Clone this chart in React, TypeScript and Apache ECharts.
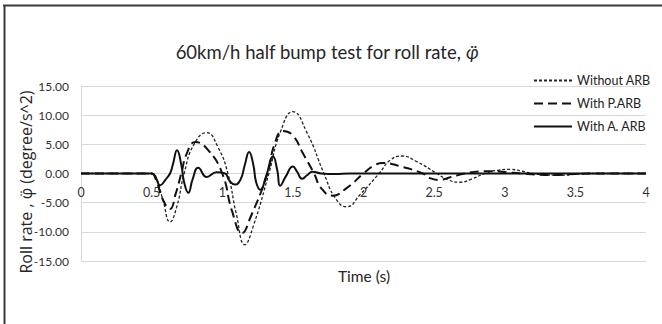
import React, { useEffect, useRef } from "react";
import * as echarts from "echarts";

const seriesNames = ["Without ARB", "With P.ARB", "With A. ARB"];

const withoutARB: [number, number][] = [
  [0, 0], [0.5, 0], [0.53, -0.5], [0.58, -4.5], [0.63, -8.3], [0.68, -5.5], [0.73, 0],
  [0.8, 5], [0.89, 7], [0.97, 4.5], [1.04, 0], [1.1, -7], [1.16, -12.2], [1.22, -9],
  [1.33, 0], [1.41, 7], [1.5, 10.6], [1.6, 7], [1.72, 0], [1.8, -4.2], [1.88, -5.7],
  [1.98, -3.5], [2.11, 0], [2.19, 2.3], [2.27, 3.0], [2.38, 2], [2.52, 0], [2.6, -1.1],
  [2.68, -1.5], [2.76, -1], [2.86, 0], [2.95, 0.55], [3.04, 0.7], [3.12, 0.4], [3.2, 0],
  [3.3, -0.25], [3.4, -0.3], [3.5, -0.15], [3.6, 0], [4, 0],
];

const withPARB: [number, number][] = [
  [0, 0], [0.5, 0], [0.53, -1], [0.58, -4.5], [0.63, -6.1], [0.67, -3.5], [0.71, 0],
  [0.75, 3.5], [0.81, 5.4], [0.9, 4], [1.0, 0], [1.07, -6.5], [1.14, -10.2], [1.2, -7.5],
  [1.32, 0], [1.37, 5], [1.43, 7.3], [1.5, 6.5], [1.57, 3.5], [1.65, 0], [1.7, -2.5],
  [1.78, -3.8], [1.88, -2.5], [2.0, 0], [2.07, 1.3], [2.14, 1.8], [2.25, 1.3], [2.42, 0],
  [2.47, -0.8], [2.53, -1.1], [2.62, -0.6], [2.72, 0], [2.82, 0.35], [2.92, 0.4],
  [3.02, 0.2], [3.12, 0], [3.25, -0.2], [3.35, -0.25], [3.48, -0.1], [3.6, 0], [4, 0],
];

const withAARB: [number, number][] = [
  [0, 0], [0.5, 0], [0.53, -0.8], [0.56, -2.0], [0.6, -1.0], [0.63, 0], [0.65, 1.5],
  [0.68, 4.0], [0.71, 1.5], [0.73, -1.5], [0.76, -3.3], [0.79, -1], [0.83, 1.0],
  [0.89, -0.6], [0.96, 0.2], [1.02, 0], [1.05, -1.2], [1.09, -1.9], [1.13, -1.0],
  [1.16, 1.5], [1.19, 3.7], [1.22, 1.5], [1.24, -1.5], [1.27, -2.8], [1.31, -0.5],
  [1.36, 2.9], [1.39, 0.5], [1.41, -2.1], [1.45, -0.5], [1.5, 1.2], [1.53, 0.3],
  [1.565, -0.9], [1.6, -0.3], [1.64, 0.3], [1.7, 0], [1.8, -0.1], [1.9, 0], [4, 0],
];

const FONT = "Lato, 'Noto Sans', sans-serif";

export default function App() {
  const ref = useRef<HTMLDivElement>(null);
  useEffect(() => {
    const chart = echarts.init(ref.current!, null, { renderer: "svg" });
    const gridTop = 86;
    const gridBottom = 63;
    const gridH = 324 - gridTop - gridBottom;
    chart.setOption({
      animation: false,
      backgroundColor: "#ffffff",
      grid: { left: 81, right: 16, top: gridTop, bottom: gridBottom, containLabel: false },
      xAxis: {
        type: "value",
        min: 0,
        max: 4,
        interval: 0.5,
        offset: -gridH / 2,
        axisLine: { onZero: false, lineStyle: { color: "#d9d9d9" } },
        axisTick: { show: false },
        splitLine: { show: false },
        axisLabel: { margin: 12, fontFamily: FONT, fontSize: 12.5, color: "#333" },
      },
      yAxis: {
        type: "value",
        min: -15,
        max: 15,
        interval: 5,
        axisLine: { show: true, lineStyle: { color: "#d9d9d9" } },
        axisTick: { show: false },
        splitLine: { lineStyle: { color: "#d9d9d9" } },
        axisLabel: {
          margin: 12,
          fontFamily: FONT,
          fontSize: 12,
          color: "#333",
          formatter: (v: number) => v.toFixed(2),
        },
      },
      legend: {
        orient: "vertical",
        left: 528,
        top: 69,
        itemWidth: 38,
        itemHeight: 14,
        itemGap: 10,
        itemStyle: { opacity: 0 },
        textStyle: { fontFamily: FONT, fontSize: 12.5, color: "#222" },
        data: seriesNames,
      },
      graphic: [
        { type: "line", shape: { x1: 3, y1: 5.5, x2: 662, y2: 5.5 }, style: { stroke: "#3a3a3a", lineWidth: 2 } },
        { type: "line", shape: { x1: 4.5, y1: 5, x2: 4.5, y2: 324 }, style: { stroke: "#3a3a3a", lineWidth: 2 } },
        {
          type: "text",
          x: 327,
          y: 52,
          style: {
            text: "60km/h half bump test for roll rate, {i|φ̈}",
            align: "center",
            verticalAlign: "middle",
            font: "18.5px " + FONT,
            fill: "#262626",
            rich: { i: { fontStyle: "italic", fontSize: 18.5, fontFamily: FONT, fill: "#262626" } },
          },
        },
        {
          type: "text",
          x: 26,
          y: 182,
          rotation: Math.PI / 2,
          style: {
            text: "Roll rate , φ̈ (degree/s^2)",
            align: "center",
            verticalAlign: "middle",
            font: "16px 'Open Sans', sans-serif",
            fill: "#262626",
          },
        },
        {
          type: "text",
          x: 364,
          y: 276,
          style: {
            text: "Time (s)",
            align: "center",
            verticalAlign: "middle",
            font: "15.5px " + FONT,
            fill: "#262626",
          },
        },
      ],
      series: [
        {
          name: seriesNames[0],
          type: "line",
          data: withoutARB,
          smooth: 0.5,
          symbol: "none",
          lineStyle: { color: "#222", width: 1.3, type: [3, 2] },
          itemStyle: { color: "#222" },
          z: 2,
        },
        {
          name: seriesNames[1],
          type: "line",
          data: withPARB,
          smooth: 0.5,
          symbol: "none",
          lineStyle: { color: "#111", width: 2, type: [9, 5] },
          itemStyle: { color: "#111" },
          z: 3,
        },
        {
          name: seriesNames[2],
          type: "line",
          data: withAARB,
          smooth: 0.5,
          symbol: "none",
          lineStyle: { color: "#111", width: 2, type: "solid" },
          itemStyle: { color: "#111" },
          z: 4,
        },
      ],
    });
    return () => chart.dispose();
  }, []);
  return (
    <div
      ref={ref}
      style={{ position: "fixed", left: 0, top: 0, width: 662, height: 324, background: "#fff" }}
    />
  );
}
